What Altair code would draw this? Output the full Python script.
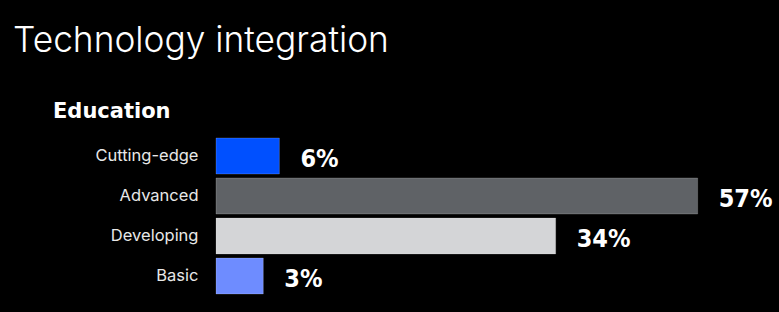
import altair as alt
import pandas as pd

title_text = "Technology integration"
subtitle_text = "Education"
categories = ["Cutting-edge", "Advanced", "Developing", "Basic"]
pct_labels = ["6%", "57%", "34%", "3%"]
# bar lengths as drawn in the picture (percentage units)
bar_values = [7.5, 57.0, 40.2, 5.6]
colors = ["#0050ff", "#5f6266", "#d4d5d7", "#6e8cff"]

df = pd.DataFrame({
    "category": categories,
    "value": bar_values,
    "label": pct_labels,
    "color": colors,
})

y_enc = alt.Y(
    "category:N",
    sort=categories,
    scale=alt.Scale(paddingInner=0.1, paddingOuter=0.05),
    axis=alt.Axis(
        title=None, ticks=False, domain=False, grid=False,
        labelColor="#e8e8e8", labelFont="Inter", labelFontSize=16.5,
        labelPadding=18,
    ),
)
x_enc = alt.X("value:Q", scale=alt.Scale(domain=[0, 60]), axis=None)

bars = alt.Chart(df).mark_bar(
    stroke="white", strokeOpacity=0.18, strokeWidth=1
).encode(
    y=y_enc, x=x_enc,
    color=alt.Color("color:N", scale=None, legend=None),
)

labels = alt.Chart(df).mark_text(
    align="left", baseline="middle", dx=21, dy=3,
    font="DejaVu Sans Condensed", fontWeight="bold",
    fontSize=25, color="white",
).encode(y=y_enc, x=x_enc, text="label:N")

title = alt.Chart(pd.DataFrame({"t": [title_text]})).mark_text(
    align="left", baseline="alphabetic", font="Inter", fontWeight=300,
    fontSize=35.3, color="white",
).encode(x=alt.value(-203), y=alt.value(-84), text="t:N")

subtitle = alt.Chart(pd.DataFrame({"t": [subtitle_text]})).mark_text(
    align="left", baseline="alphabetic", font="DejaVu Sans", fontWeight="bold",
    fontSize=21, color="white",
).encode(x=alt.value(-163), y=alt.value(-18), text="t:N")

chart = alt.layer(bars, labels, title, subtitle).properties(
    width=507, height=160,
    background="black",
    autosize=alt.AutoSizeParams(type="none"),
    padding={"left": 216, "top": 136, "right": 56, "bottom": 16},
).configure_view(stroke=None)

chart.save("out.html", embed_options={"renderer": "svg", "actions": False})
